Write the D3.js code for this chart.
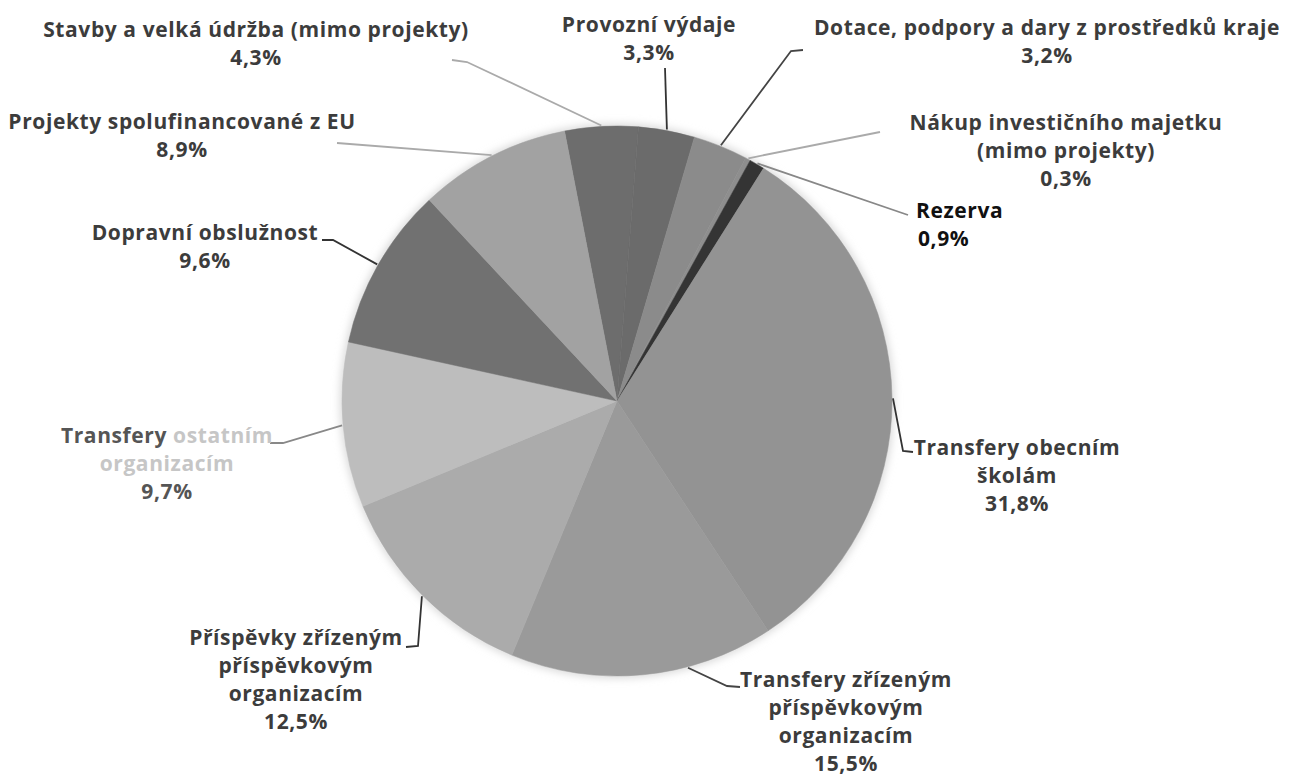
<!DOCTYPE html>
<html>
<head>
<meta charset="utf-8">
<script src="https://cdn.jsdelivr.net/npm/d3@7"></script>
<style>
  body { margin: 0; background: #fff; }
  svg text { font-family: "Open Sans", "DejaVu Sans", sans-serif; font-weight: 700; letter-spacing: 0.6px; }
</style>
</head>
<body>
<svg id="chart" width="1290" height="776"></svg>
<script>
// rozpocet - podily vydaju (v %), poradi po smeru hodin od "Stavby"
var categories = [
	"Stavby a velká údržba (mimo projekty)",
	"Provozní výdaje",
	"Dotace, podpory a dary z prostředků kraje",
	"Nákup investičního majetku\n(mimo projekty)",
	"Rezerva",
	"Transfery obecním\nškolám",
	"Transfery zřízeným\npříspěvkovým\norganizacím",
	"Příspěvky zřízeným\npříspěvkovým\norganizacím",
	"Transfery ostatním\norganizacím",
	"Dopravní obslužnost",
	"Projekty spolufinancované z EU"
];
var shares = [4.3, 3.3, 3.2, 0.3, 0.9, 31.8, 15.5, 12.5, 9.7, 9.6, 8.9];

var sliceColors = ["#6d6d6d", "#6b6b6b", "#8b8b8b", "#8e8e8e", "#343434", "#939393",
	"#9a9a9a", "#ababab", "#bdbdbd", "#717171", "#a2a2a2"];
var lineColors = ["#aaa", "#333", "#444", "#aaa", "#888", "#333", "#444", "#333", "#888", "#333", "#aaa"];

// umisteni popisku: x, y prvni radky, zarovnani, lomene body odkazu, pozice v ramci vysece
var labelLayout = [
	{x: 256, y: 37, anchor: "middle", pts: [[452, 60], [467, 62]]},
	{x: 649, y: 32, anchor: "middle", pts: [[665, 68]]},
	{x: 1047, y: 35, anchor: "middle", pts: [[803, 50], [791, 51]]},
	{x: 1066, y: 130, anchor: "middle", pts: [[880, 132]]},
	{x: 916, y: 218, anchor: "start", pts: [[908, 215]]},
	{x: 1017, y: 455, anchor: "middle", pts: [[913, 452], [903, 451]]},
	{x: 846, y: 687, anchor: "middle", pts: [[740, 687], [727, 686]], frac: 0.33},
	{x: 296, y: 645, anchor: "middle", pts: [[406, 647], [418, 646]]},
	{x: 167, y: 443, anchor: "middle", pts: [[270, 443], [283, 443]]},
	{x: 205, y: 240, anchor: "middle", pts: [[322, 240], [333, 240]]},
	{x: 182, y: 129, anchor: "middle", pts: [[337, 143]]}
];
var fadedWords = ["ostatním", "organizacím"];

var cz = d3.formatLocale({decimal: ",", thousands: " ", grouping: [3], currency: ["", " Kč"]});
var pct = cz.format(".1f");

var svg = d3.select("#chart"),
	cx = 617, cy = 401, radius = 275,
	lineH = 28;

var startA = -11 * Math.PI / 180;
var pie = d3.pie().sort(null).value(function(d) { return d; })
	.startAngle(startA).endAngle(startA + 2 * Math.PI);
var arcs = pie(shares);
var arc = d3.arc().innerRadius(0).outerRadius(radius);

var defs = svg.append("defs");
defs.append("filter").attr("id", "soft")
	.attr("x", "-10%").attr("y", "-10%").attr("width", "120%").attr("height", "120%")
	.append("feGaussianBlur").attr("stdDeviation", 4);

var g = svg.append("g").attr("transform", "translate(" + cx + "," + cy + ")");

g.append("circle").attr("r", radius + 2).attr("fill", "#d8d8d8").attr("filter", "url(#soft)");

g.selectAll("path.slice")
	.data(arcs)
	.enter().append("path")
	.attr("class", "slice")
	.attr("d", arc)
	.attr("fill", function(d, i) { return sliceColors[i]; })
	.attr("stroke", function(d, i) { return sliceColors[i]; })
	.attr("stroke-width", 0.5);

// odkazove cary
var line = d3.line();
arcs.forEach(function(d, i) {
	var lay = labelLayout[i];
	var f = lay.frac == null ? 0.5 : lay.frac;
	var a = d.startAngle + (d.endAngle - d.startAngle) * f;
	var p = [cx + Math.sin(a) * (radius + 1), cy - Math.cos(a) * (radius + 1)];
	svg.append("path")
		.attr("d", line(lay.pts.concat([p])))
		.attr("fill", "none")
		.attr("stroke", lineColors[i])
		.attr("stroke-width", 1.8);
});

// popisky
categories.forEach(function(name, i) {
	var lay = labelLayout[i];
	var lines = name.split("\n").concat([pct(shares[i]) + "%"]);
	var strong = i === 4;
	var t = svg.append("text")
		.attr("text-anchor", lay.anchor)
		.style("font-size", "21px")
		.attr("fill", strong ? "#111" : "#3c3c3c");
	lines.forEach(function(ln, k) {
		var tl = t.append("tspan")
			.attr("x", lay.x)
			.attr("y", lay.y + k * lineH);
		if (i === 8) {
			ln.split(" ").forEach(function(w, j) {
				tl.append("tspan")
					.attr("fill", fadedWords.indexOf(w) >= 0 ? "#c6c6c6" : "#555")
					.text((j > 0 ? " " : "") + w);
			});
		} else {
			tl.text(ln);
		}
		if (strong && k === lines.length - 1 && lay.anchor === "start") tl.attr("x", lay.x + 2);
	});
});
</script>
</body>
</html>
